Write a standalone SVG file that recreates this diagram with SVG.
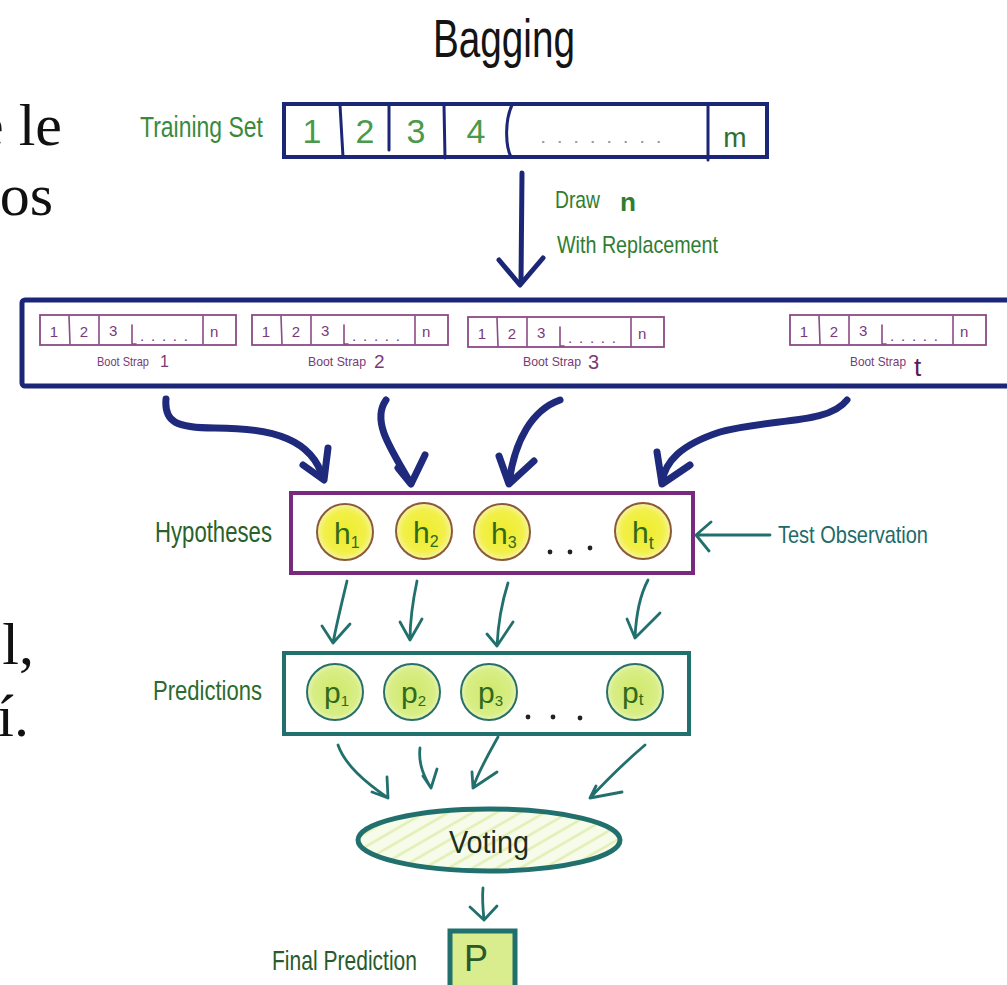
<svg xmlns="http://www.w3.org/2000/svg" width="1007" height="985" viewBox="0 0 1007 985">
<style>
  .hand{font-family:"Liberation Sans","DejaVu Sans",sans-serif;}
  .serif{font-family:"Liberation Serif","DejaVu Serif",serif;font-size:60px;fill:#111;}
  .navy{fill:none;stroke:#1c2677;stroke-linecap:round;stroke-linejoin:round;}
  .brush{fill:none;stroke:#1f2a7c;stroke-width:7;stroke-linecap:round;stroke-linejoin:round;}
  .teal{fill:none;stroke:#22706e;stroke-width:2.8;stroke-linecap:round;stroke-linejoin:round;}
  .bsbox{fill:#fff;stroke:#8c4a86;stroke-width:1.8;}
  .bsline{fill:none;stroke:#8c4a86;stroke-width:1.6;stroke-linecap:round;}
  .bstxt{fill:#7a3a76;font-size:15px;}
  .bslab{fill:#7a3a76;font-size:13px;}
  .hyp{fill:url(#yellowGrad);stroke:#8a5a3a;stroke-width:2;}
  .pred{fill:url(#greenGrad);stroke:#2a6f6a;stroke-width:2;}
  .htxt{fill:#2f6a1f;font-size:30px;}
  .ptxt{fill:#2f6a1f;font-size:30px;}
</style>
<defs>
  <radialGradient id="yellowGrad" cx="50%" cy="50%" r="50%">
    <stop offset="0%" stop-color="#eeec2a"/>
    <stop offset="75%" stop-color="#f2f04a"/>
    <stop offset="100%" stop-color="#f6f4a0"/>
  </radialGradient>
  <radialGradient id="greenGrad" cx="50%" cy="50%" r="50%">
    <stop offset="0%" stop-color="#cfe86a"/>
    <stop offset="80%" stop-color="#d8ee86"/>
    <stop offset="100%" stop-color="#e6f4b4"/>
  </radialGradient>
  <pattern id="hatch" width="12" height="12" patternUnits="userSpaceOnUse" patternTransform="rotate(-30)">
    <rect width="12" height="12" fill="#f7fbea"/>
    <line x1="0" y1="4" x2="12" y2="4" stroke="#e2efb4" stroke-width="2.5"/>
  </pattern>
  <g id="bscells">
    <rect class="bsbox" x="0" y="0" width="196" height="30"/>
    <line class="bsline" x1="29" y1="1" x2="30" y2="29"/>
    <line class="bsline" x1="59" y1="1" x2="59" y2="29"/>
    <path class="bsline" d="M92,10 L92,29 L96,29"/>
    <line class="bsline" x1="163" y1="1" x2="163" y2="29"/>
    <text class="hand bstxt" x="14" y="22" text-anchor="middle">1</text>
    <text class="hand bstxt" x="44" y="22" text-anchor="middle">2</text>
    <text class="hand bstxt" x="69" y="21">3</text>
    <text class="hand bstxt" x="100" y="26" textLength="48" lengthAdjust="spacing">.....</text>
    <text class="hand bstxt" x="170" y="22">n</text>
  </g>
</defs>

<rect width="1007" height="985" fill="#ffffff"/>

<!-- cut-off slide text on the left -->
<g id="slide-text">
  <text class="serif" x="62" y="145" text-anchor="end">e le</text>
  <text class="serif" x="53" y="215" text-anchor="end">os</text>
  <text class="serif" x="34" y="664" text-anchor="end">l,</text>
  <text class="serif" x="29" y="736" text-anchor="end">í.</text>
</g>

<!-- title -->
<g id="title">
  <text class="hand" x="433" y="57" font-size="54" fill="#141414" textLength="142" lengthAdjust="spacingAndGlyphs">Bagging</text>
</g>

<!-- training set -->
<g id="training-set">
  <text class="hand" x="140" y="137" font-size="30" fill="#3a8a3e" textLength="123" lengthAdjust="spacingAndGlyphs">Training Set</text>
  <rect x="284" y="104" width="483" height="53" fill="#fff" stroke="#1c2677" stroke-width="4"/>
  <path class="navy" stroke-width="3" d="M340,105 L343,157 M389,105 L389,150 M444,105 L445,158 M512,105 C505,120 505,145 511,157 M708,105 L708,160"/>
  <g class="hand" font-size="34" fill="#4a9a4a" text-anchor="middle">
    <text x="312" y="143">1</text>
    <text x="365" y="143">2</text>
    <text x="416" y="143">3</text>
    <text x="476" y="143">4</text>
  </g>
  <line x1="543" y1="142" x2="662" y2="142" stroke="#9a9a9a" stroke-width="2.2" stroke-dasharray="0.5 16" stroke-linecap="round"/>
  <text class="hand" x="735" y="147" font-size="28" fill="#2f6f2f" text-anchor="middle">m</text>
</g>

<!-- draw n label -->
<g id="draw-label" class="hand" fill="#2f7d32">
  <text x="555" y="208" font-size="24" textLength="45" lengthAdjust="spacingAndGlyphs">Draw</text>
  <text x="620" y="211" font-size="26" font-weight="bold" textLength="16" lengthAdjust="spacingAndGlyphs">n</text>
  <text x="557" y="253" font-size="24" textLength="161" lengthAdjust="spacingAndGlyphs">With Replacement</text>
</g>

<!-- bootstrap container -->
<g id="bootstrap-samples">
  <rect x="22" y="300" width="1000" height="86" rx="3" fill="#fff" stroke="#1c2677" stroke-width="5"/>
  <g id="bootstrap-1">
    <use href="#bscells" x="40" y="315"/>
    <text class="hand bslab" x="97" y="366" textLength="52" lengthAdjust="spacingAndGlyphs">Boot Strap</text>
    <text class="hand" x="160" y="367" font-size="16" fill="#7a3a76">1</text>
  </g>
  <g id="bootstrap-2">
    <use href="#bscells" x="252" y="315"/>
    <text class="hand bslab" x="308" y="366" textLength="58" lengthAdjust="spacingAndGlyphs">Boot Strap</text>
    <text class="hand" x="374" y="368" font-size="19" fill="#7a3a76">2</text>
  </g>
  <g id="bootstrap-3">
    <use href="#bscells" x="468" y="317"/>
    <text class="hand bslab" x="523" y="366" textLength="58" lengthAdjust="spacingAndGlyphs">Boot Strap</text>
    <text class="hand" x="588" y="369" font-size="20" fill="#7a3a76">3</text>
  </g>
  <g id="bootstrap-t">
    <use href="#bscells" x="790" y="315"/>
    <text class="hand bslab" x="850" y="366" textLength="56" lengthAdjust="spacingAndGlyphs">Boot Strap</text>
    <text class="hand" x="914" y="376" font-size="26" fill="#5a1a5a">t</text>
  </g>
</g>

<!-- hypotheses -->
<g id="hypotheses">
  <text class="hand" x="155" y="542" font-size="30" fill="#2b5f2b" textLength="117" lengthAdjust="spacingAndGlyphs">Hypotheses</text>
  <rect x="291" y="493" width="402" height="80" fill="#fff" stroke="#7a2a7e" stroke-width="4"/>
  <g id="h1"><circle class="hyp" cx="345" cy="532" r="28"/><text class="hand htxt" x="334" y="544">h<tspan font-size="16" dy="4">1</tspan></text></g>
  <g id="h2"><circle class="hyp" cx="424" cy="531" r="28"/><text class="hand htxt" x="413" y="543">h<tspan font-size="16" dy="4">2</tspan></text></g>
  <g id="h3"><circle class="hyp" cx="502" cy="532" r="28"/><text class="hand htxt" x="491" y="544">h<tspan font-size="16" dy="4">3</tspan></text></g>
  <g id="ht"><circle class="hyp" cx="643" cy="531" r="28"/><text class="hand htxt" x="632" y="543">h<tspan font-size="18" dy="6">t</tspan></text></g>
  <g fill="#222"><circle cx="550" cy="552" r="2.4"/><circle cx="570" cy="552" r="2.4"/><circle cx="590" cy="548" r="2.4"/></g>
</g>

<!-- test observation -->
<g id="test-observation">
  <text class="hand" x="778" y="543" font-size="24" fill="#216a68" textLength="150" lengthAdjust="spacingAndGlyphs">Test Observation</text>
</g>

<!-- predictions -->
<g id="predictions">
  <text class="hand" x="153" y="700" font-size="28" fill="#2d6b2d" textLength="109" lengthAdjust="spacingAndGlyphs">Predictions</text>
  <rect x="284" y="653" width="405" height="81" fill="#fff" stroke="#22706e" stroke-width="4"/>
  <g id="p1"><circle class="pred" cx="335" cy="692" r="28"/><text class="hand ptxt" x="324" y="703">p<tspan font-size="15" dy="3">1</tspan></text></g>
  <g id="p2"><circle class="pred" cx="412" cy="692" r="28"/><text class="hand ptxt" x="401" y="703">p<tspan font-size="15" dy="3">2</tspan></text></g>
  <g id="p3"><circle class="pred" cx="489" cy="692" r="28"/><text class="hand ptxt" x="478" y="703">p<tspan font-size="15" dy="3">3</tspan></text></g>
  <g id="pt"><circle class="pred" cx="635" cy="692" r="28"/><text class="hand ptxt" x="622" y="703">p<tspan font-size="17" dy="2">t</tspan></text></g>
  <g fill="#222"><circle cx="528" cy="717" r="2.4"/><circle cx="553" cy="717" r="2.4"/><circle cx="580" cy="718" r="2.4"/></g>
</g>

<!-- voting -->
<g id="voting">
  <ellipse cx="489" cy="840" rx="131" ry="31" fill="url(#hatch)" stroke="#22706e" stroke-width="5"/>
  <text class="hand" x="489" y="853" font-size="32" fill="#1e2e1e" text-anchor="middle" textLength="80" lengthAdjust="spacingAndGlyphs">Voting</text>
</g>

<!-- final prediction -->
<g id="final-prediction">
  <text class="hand" x="272" y="970" font-size="28" fill="#2a5a2a" textLength="145" lengthAdjust="spacingAndGlyphs">Final Prediction</text>
  <rect x="450" y="931" width="65" height="62" fill="#d9ed8e" stroke="#22706e" stroke-width="5"/>
  <text class="hand" x="476" y="971" font-size="36" fill="#2a5a2a" text-anchor="middle">P</text>
</g>

<!-- connectors -->
<g id="connectors">
  <!-- draw n with replacement -->
  <path class="navy" stroke-width="5" d="M522,173 L521,283"/>
  <path class="navy" stroke-width="5" d="M499,260 L520,285 L543,258"/>

  <!-- bootstrap to hypotheses -->
  <path class="brush" d="M166,399 C164,422 176,428 215,428 C275,428 312,440 323,478"/>
  <path class="brush" d="M303,465 L324,480 L328,448"/>
  <path class="brush" d="M386,400 C372,420 388,445 410,482"/>
  <path class="brush" d="M398,468 L411,484 L425,455"/>
  <path class="brush" d="M560,400 C532,410 515,440 509,482"/>
  <path class="brush" d="M499,456 L509,484 L534,461"/>
  <path class="brush" d="M847,400 C828,425 770,418 720,432 C680,445 665,462 662,482"/>
  <path class="brush" d="M657,452 L662,484 L690,465"/>

  <!-- test observation arrow -->
  <path class="teal" stroke-width="3" d="M770,535 L697,535 M711,522 L696,535 L709,551"/>

  <!-- hypotheses to predictions -->
  <path class="teal" d="M347,581 C342,602 337,622 333,643 M322,626 L333,643 L350,624"/>
  <path class="teal" d="M417,581 C413,600 410,620 410,640 M400,622 L410,640 L422,619"/>
  <path class="teal" d="M508,583 C501,605 498,625 497,646 M487,634 L497,646 L513,622"/>
  <path class="teal" d="M648,580 C640,595 636,615 635,638 M627,619 L635,638 L660,613"/>

  <!-- predictions to voting -->
  <path class="teal" d="M338,745 C345,765 365,782 388,798 M372,792 L388,798 L387,777"/>
  <path class="teal" d="M420,748 C418,765 425,778 431,788 M423,776 L431,788 L437,769"/>
  <path class="teal" d="M498,737 C488,755 478,772 473,788 M472,772 L473,788 L497,772"/>
  <path class="teal" d="M645,745 C625,762 605,782 590,798 M596,786 L590,798 L622,792"/>

  <!-- voting to final -->
  <path class="teal" d="M483,888 C482,898 483,910 484,920 M470,907 L484,920 L497,906"/>
</g>
</svg>
